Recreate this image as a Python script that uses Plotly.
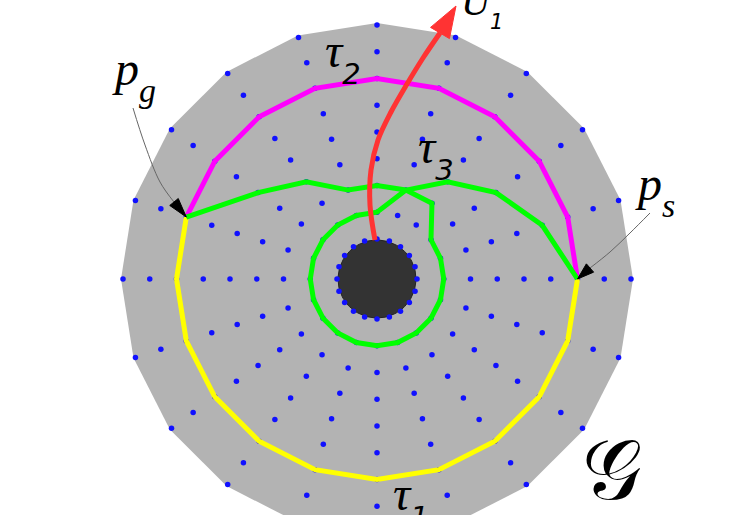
import numpy as np
import plotly.graph_objects as go

# ---------------- data ----------------
n_spokes = 20
n_rings = 9
inner_radius = 40.0
ring_step = 26.75
outer_radius = 256.0
obstacle_radius = 39.0

# paths given as (ring index, spoke index) node sequences on the polar grid
tau1_rings = [6] * 12
tau1_spokes = [9, 10, 11, 12, 13, 14, 15, 16, 17, 18, 19, 0]
tau2_rings = [6] * 10
tau2_spokes = [9, 8, 7, 6, 5, 4, 3, 2, 1, 0]
tau3_rings = [6, 4, 3, 2, 2, 2] + [1] * 18 + [2, 2] + [3, 4, 5, 6]
tau3_spokes = [9, 8, 7, 6, 5, 4] + [5, 6, 7, 8, 9, 10, 11, 12, 13, 14, 15, 16, 17, 18, 19, 0, 1, 2] + [3, 4] + [3, 2, 1, 0]

p_g_node = (6, 9)
p_s_node = (6, 0)

# U1 control curve (chart coordinates) and its tip
u1_x = [-2, -7, -6, 1, 14, 30, 46, 63]
u1_y = [39, 74, 109, 139, 167, 195, 221, 246]
u1_tip = (79, 273)

# leader curves for the p_g / p_s callouts
pg_leader_x = [-244, -232, -217, -203]
pg_leader_y = [171, 134, 97, 77]
ps_leader_x = [273, 253, 233, 213]
ps_leader_y = [66, 46, 27, 11]


def node(r, s):
    rad = inner_radius + ring_step * r
    ang = 2 * np.pi * s / n_spokes
    return rad * np.cos(ang), rad * np.sin(ang)


def path_xy(rings, spokes):
    pts = [node(r, s) for r, s in zip(rings, spokes)]
    return [p[0] for p in pts], [p[1] for p in pts]


def head(base, tip, width):
    bx, by = base
    tx, ty = tip
    dx, dy = tx - bx, ty - by
    L = np.hypot(dx, dy)
    px, py = -dy / L, dx / L
    hw = width / 2
    return ([bx + px * hw, tx, bx - px * hw, bx + px * hw],
            [by + py * hw, ty, by - py * hw, by + py * hw])


fig = go.Figure()

# gray domain polygon
ang = np.linspace(0, 2 * np.pi, n_spokes + 1)
fig.add_trace(go.Scatter(x=outer_radius * np.cos(ang), y=outer_radius * np.sin(ang),
                         fill="toself", fillcolor="#b3b3b3", mode="lines",
                         line=dict(width=0, color="#b3b3b3"), hoverinfo="skip"))

# obstacle
t = np.linspace(0, 2 * np.pi, 121)
fig.add_trace(go.Scatter(x=obstacle_radius * np.cos(t), y=obstacle_radius * np.sin(t),
                         fill="toself", fillcolor="#333333", mode="lines",
                         line=dict(width=1, color="#222222"), hoverinfo="skip"))

# grid points
gx, gy = [], []
for r in range(n_rings):
    for s in range(n_spokes):
        x, y = node(r, s)
        gx.append(x)
        gy.append(y)
fig.add_trace(go.Scatter(x=gx, y=gy, mode="markers",
                         marker=dict(size=5.5, color="#1010ff", line=dict(width=0)),
                         hoverinfo="skip"))

# paths
for rings, spokes, col in [(tau1_rings, tau1_spokes, "#ffff00"),
                           (tau2_rings, tau2_spokes, "#ff00ff"),
                           (tau3_rings, tau3_spokes, "#00ff00")]:
    x, y = path_xy(rings, spokes)
    fig.add_trace(go.Scatter(x=x, y=y, mode="lines",
                             line=dict(color=col, width=5), hoverinfo="skip"))

# U1 red arrow
fig.add_trace(go.Scatter(x=u1_x, y=u1_y, mode="lines",
                         line=dict(color="#ff3333", width=5, shape="spline", smoothing=1),
                         hoverinfo="skip"))
hx, hy = head((u1_x[-1], u1_y[-1]), u1_tip, 22)
fig.add_trace(go.Scatter(x=hx, y=hy, mode="lines", fill="toself", fillcolor="#ff3333",
                         line=dict(width=1, color="#ff3333"), hoverinfo="skip"))

# callout leaders
for lx, ly, nd in [(pg_leader_x, pg_leader_y, p_g_node), (ps_leader_x, ps_leader_y, p_s_node)]:
    fig.add_trace(go.Scatter(x=lx, y=ly, mode="lines",
                             line=dict(color="#666666", width=1, shape="spline"),
                             hoverinfo="skip"))
    tip = node(*nd)
    hx, hy = head((lx[-1], ly[-1]), tip, 11)
    fig.add_trace(go.Scatter(x=hx, y=hy, mode="lines", fill="toself", fillcolor="black",
                             line=dict(width=1, color="black"), hoverinfo="skip"))


def sub_label(main, sub, x, y, size, sub_size, sub_family, yshift=0):
    text = (main + "<sub><sub><span style='font-family:" + sub_family +
            ";font-size:" + str(sub_size) + "px'>" + sub + "</span></sub></sub>")
    return dict(x=x, y=y, xref="x", yref="y", text=text, showarrow=False,
                xanchor="left", yanchor="top", yshift=yshift,
                font=dict(family="Liberation Serif", size=size, color="black",
                          style="italic"))


sans = "DejaVu Sans"
serif_it = "Liberation Serif"
annotations = [
    sub_label("τ", "2", -54, 257, 48, 29, sans),
    sub_label("τ", "3", 39, 161, 48, 29, sans),
    sub_label("τ", "1", 14, -186, 48, 29, sans),
    sub_label("p", "g", -267, 239, 48, 34, serif_it),
    sub_label("p", "s", 256, 124, 48, 34, serif_it),
    sub_label("U", "1", 82, 270, 40, 21, sans, yshift=31.6),
    dict(x=235, y=-191, xref="x", yref="y", text="𝒢", showarrow=False,
         xanchor="center", yanchor="middle",
         font=dict(family="DejaVu Serif, DejaVu Sans, Noto Sans", size=84, color="black")),
]

fig.update_layout(
    width=738, height=515,
    margin=dict(l=0, r=0, t=0, b=0),
    paper_bgcolor="white", plot_bgcolor="white",
    showlegend=False,
    xaxis=dict(range=[-377, 361], visible=False, fixedrange=True),
    yaxis=dict(range=[-236, 279], visible=False, fixedrange=True),
    annotations=annotations,
)

fig.write_html("out.html", config={"displayModeBar": False},
               post_script="document.body.style.margin='0';")
